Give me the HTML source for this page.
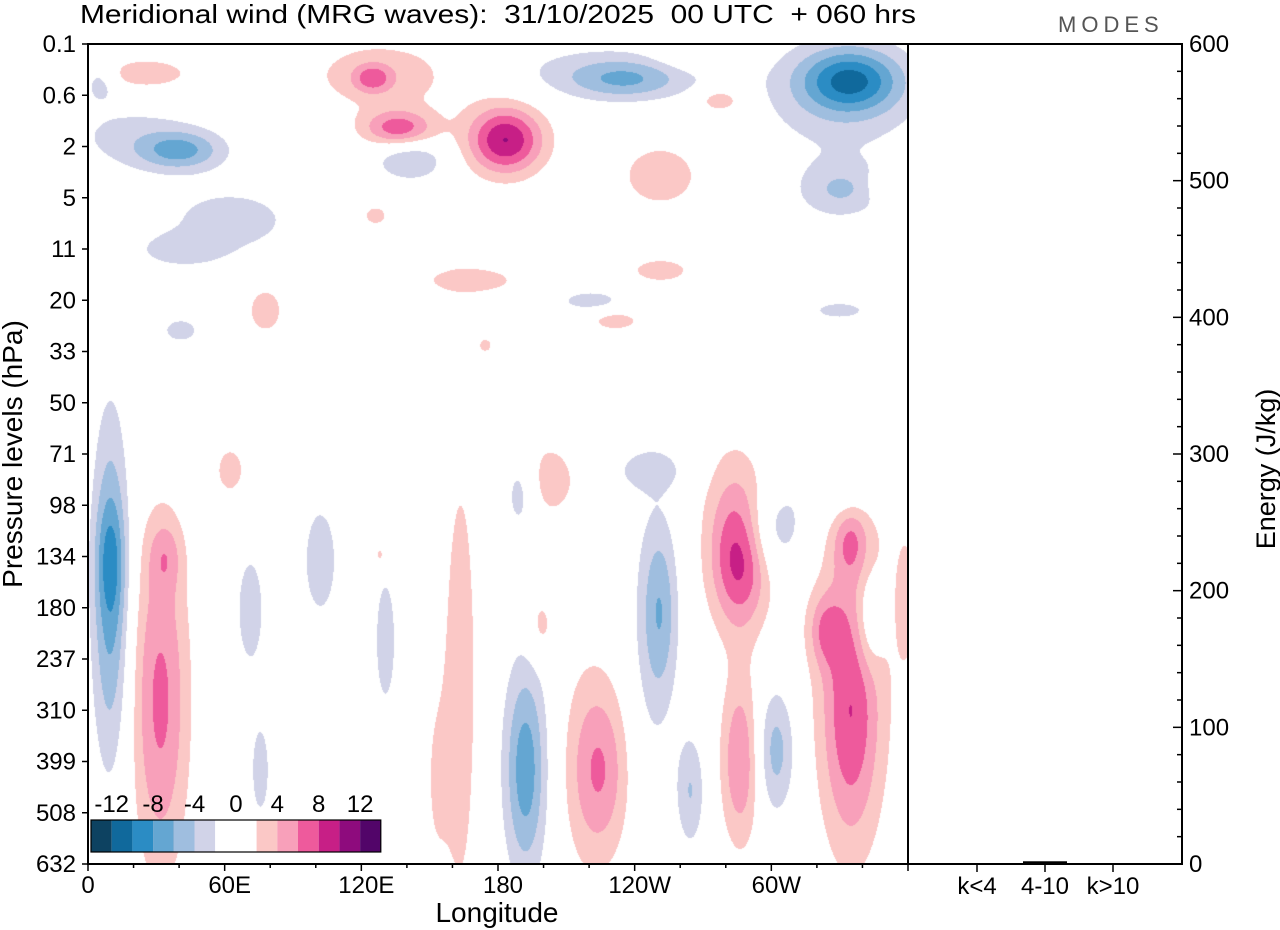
<!DOCTYPE html>
<html><head><meta charset="utf-8"><style>
body{margin:0;background:#fff;width:1280px;height:930px;overflow:hidden;position:relative;font-family:"Liberation Sans",Arial,sans-serif}
#fld{position:absolute;left:88px;top:44px}
svg{position:absolute;left:0;top:0}
text{white-space:pre}
</style></head><body>
<canvas id="fld" width="820" height="820"></canvas>
<svg id="ov" width="1280" height="930"></svg>
<script>
// blob data: longitude (deg E), level index, spread lon, spread level, amplitude (m/s)
const blobLon=[130.4,124.7,136.1,183.1,25,251.1,268.7,277.4,77.7,167.7,251.1,231.4,126,347.7,174.3,31.6,33.8,62.3,163.3,152.3,200.6,286.2,281.8,224.8,213.8,286.2,334.5,323.5,334.5,336.7,198.4,128.2,358.7,
334.5,330.1,235.7,224.8,40.4,18.4,5.3,141.4,62.3,330.1,9.7,9.7,191.8,196.2,301.6,189.6,299.4,251.1,246.7,130.4,343.3,264.3,71.1,101.8,220.4,330.1,40.4,40.4,246.7,330.1,75.5];
const blobLev=[0.60,0.66,1.64,1.87,0.57,2.56,0.21,1.09,5.19,4.6,4.41,5.39,3.34,2.75,5.87,12.8,9.97,8.31,12.5,14.36,8.5,9.97,9.29,14.17,13.97,13.97,13.19,11.43,9.68,11.24,11.34,9.97,10.85,
0.70,1.09,0.70,0.51,2.07,1.78,0.70,2.26,3.43,2.85,10.65,10.07,14.17,13.97,13.78,8.7,9.48,11.04,11.63,11.63,11.24,14.56,11.04,10.07,5.0,5.19,5.58,4.02,8.31,8.51,14.17];
const blobSLon=[28.1,6.1,11,11.9,13.2,14,13.2,6.6,6.6,17.6,11,8.8,4.4,3.5,2.6,8.8,5.3,5.3,5.5,4.4,11,8.8,11,8.8,13.2,6.1,8.8,5.3,5.3,15.4,4.4,2.6,2.6,
15.4,26.3,17.6,35.1,13.2,22,5.3,11,22,13.2,5.7,4.4,6.1,11,6.1,5.3,11,5.3,8,3.5,4.4,4.4,5.3,6.6,11,11,6.6,13.2,11,13.2,3.5];
const blobSLev=[0.55,0.2,0.25,0.47,0.2,0.5,0.2,0.16,0.39,0.23,0.2,0.16,0.16,0.2,0.12,2.34,0.49,0.39,3.3,1.56,0.59,0.98,1.37,1.17,1.95,1.17,1.76,0.49,0.49,2.93,0.49,0.2,0.78,
0.43,0.88,0.27,0.39,0.27,0.49,0.29,0.29,0.49,0.39,2.34,0.78,1.37,1.95,0.88,0.59,0.59,1.17,2.2,0.98,0.68,0.78,0.98,0.98,0.16,0.16,0.2,0.23,0.29,0.49,0.78];
const blobAmp=[3,5,7,10,4,3.2,3,4,3,3,3,3,3,3,2.8,6.5,3,3,3.5,2,3.2,8,2,5,2,6,6,4,4,2.5,3,2.8,3,
-8.5,-3,-4.5,-2.5,-6,-2.5,-3,-4,-3,-4,-7,-3,-6,-2,-5,-4,-4,-4.5,-2,-3.5,-4,-4,-3,-3,-3,-3,-3,-3,-3,-3.5,-3];
const levelLabels=["0.1","0.6","2","5","11","20","33","50","71","98","134","180","237","310","399","508","632"];
const lonTicks=[0,60,120,180,240,300];
const lonLabels=["0","60E","120E","180","120W","60W"];
const energyCats=["k<4","4-10","k>10"];
const energyVals=[0.4,2.0,0.4];
const energyTicks=[0,100,200,300,400,500,600];
const cbarLabels=[-12,-8,-4,0,4,8,12];
const cbarColors=["#0d4261","#10699c","#2b8cc4","#64a6d2","#9fbedf","#d1d3e8","#ffffff","#ffffff","#fbc8c6","#f8a0ba","#ee5a9c","#c71f86","#8e0b7d","#520569"];

const X0=88,X1=908,Y0=44,Y1=864;
const xLon=l=>X0+l/360*(X1-X0);
const yLev=i=>Y0+i*(Y1-Y0)/16;
const EY=v=>Y1-v/600*(Y1-Y0);

const cv=document.getElementById('fld'),ctx=cv.getContext('2d');
const img=ctx.createImageData(820,820);
const rgb=cbarColors.map(h=>[parseInt(h.substr(1,2),16),parseInt(h.substr(3,2),16),parseInt(h.substr(5,2),16)]);
const N=blobAmp.length;
const bx=[],by=[],sx=[],sy=[];
for(let k=0;k<N;k++){bx.push(xLon(blobLon[k])-X0);by.push(yLev(blobLev[k])-Y0);sx.push(blobSLon[k]/360*820);sy.push(blobSLev[k]*51.25);}
for(let py=0;py<820;py++){for(let px=0;px<820;px++){
 let v=0;
 for(let k=0;k<N;k++){const dx=(px-bx[k])/sx[k],dy=(py-by[k])/sy[k];const r=dx*dx+dy*dy;if(r<18)v+=blobAmp[k]*Math.exp(-r/2);}
 let idx=Math.floor(v/2)+7;if(idx<0)idx=0;if(idx>13)idx=13;
 const c=rgb[idx],o=(py*820+px)*4;img.data[o]=c[0];img.data[o+1]=c[1];img.data[o+2]=c[2];img.data[o+3]=255;}}
ctx.putImageData(img,0,0);

const svg=document.getElementById('ov'),NS='http://www.w3.org/2000/svg';
function mk(t,a,txt){const e=document.createElementNS(NS,t);for(const k in a)e.setAttribute(k,a[k]);if(txt!==undefined)e.textContent=txt;svg.appendChild(e);return e;}
let e;
e=mk('text',{x:80,y:23,'font-size':26,fill:'#000',textLength:836,lengthAdjust:'spacingAndGlyphs'},'Meridional wind (MRG waves):  31/10/2025  00 UTC  + 060 hrs');

e=mk('text',{x:1058,y:32,'font-size':22,fill:'#555','letter-spacing':'5'},'MODES');

e=mk('rect',{x:X0,y:Y0,width:1182-X0,height:Y1-Y0,fill:'none',stroke:'#000','stroke-width':2});

e=mk('line',{x1:X1,y1:Y0,x2:X1,y2:Y1,stroke:'#000','stroke-width':2});

levelLabels.forEach((s,i)=>{const y=yLev(i);
 e=mk('line',{x1:X0-6,y1:y,x2:X0,y2:y,stroke:'#000','stroke-width':1.5});
 e=mk('text',{x:X0-12,y:y+8,'font-size':24,'text-anchor':'end'},s);});
e=mk('text',{x:0,y:0,'font-size':28,'text-anchor':'middle',transform:'translate(22,454) rotate(-90)'},'Pressure levels (hPa)');

for(let l=0;l<=360;l+=20){const x=xLon(l);e=mk('line',{x1:x,y1:Y1,x2:x,y2:Y1+(l%60?4:7),stroke:'#000','stroke-width':1.5});}
lonTicks.forEach((l,i)=>{e=mk('text',{x:xLon(l)+(i==0?0:5),y:Y1+29,'font-size':24,'text-anchor':'middle'},lonLabels[i]);});
e=mk('text',{x:497,y:922,'font-size':28,'text-anchor':'middle'},'Longitude');

for(let v=0;v<=600;v+=20){const y=EY(v);e=mk('line',{x1:1182,y1:y,x2:1182-(v%100?5:9),y2:y,stroke:'#000','stroke-width':1.5});}
energyTicks.forEach(v=>{e=mk('text',{x:1189,y:EY(v)+8,'font-size':24},String(v));});
e=mk('text',{x:0,y:0,'font-size':27,'text-anchor':'middle',transform:'translate(1275,469) rotate(-90)'},'Energy (J/kg)');

energyCats.forEach((c,i)=>{const x=977+i*68;
 e=mk('line',{x1:x,y1:Y1,x2:x,y2:Y1+8,stroke:'#000','stroke-width':1.5});
 e=mk('text',{x:x,y:Y1+30,'font-size':24,'text-anchor':'middle'},c);
 const h=Y1-EY(energyVals[i]);
 e=mk('rect',{x:x-22,y:Y1-h,width:44,height:h,fill:'#000'});});
const cw=20.7,cx0=91,cy=820;
cbarColors.forEach((c,i)=>{e=mk('rect',{x:cx0+i*cw,y:cy,width:cw,height:32,fill:c});});
e=mk('rect',{x:cx0,y:cy,width:cw*14,height:32,fill:'none',stroke:'#000','stroke-width':1.2});

cbarLabels.forEach(v=>{const x=cx0+(v/2+6)*cw+cw;e=mk('text',{x:x,y:cy-8,'font-size':24,'text-anchor':'middle'},String(v));});
</script>
</body></html>
